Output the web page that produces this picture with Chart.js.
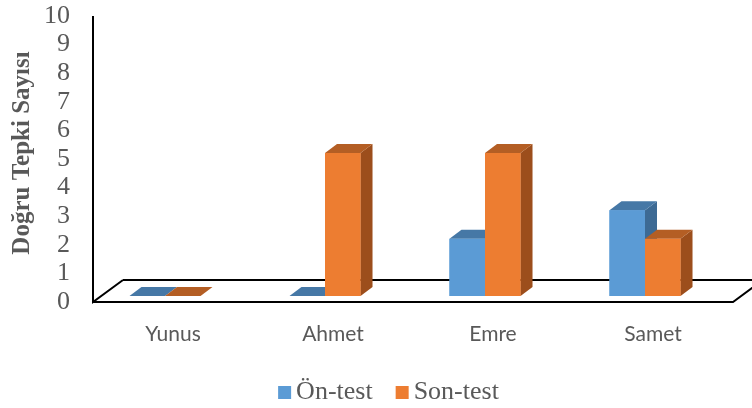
<!DOCTYPE html>
<html>
<head>
<meta charset="utf-8">
<script src="https://cdn.jsdelivr.net/npm/chart.js@4/dist/chart.umd.min.js"></script>
<style>
  html, body { margin: 0; padding: 0; background: #ffffff; }
  #wrap { width: 752px; height: 408px; position: relative; }
</style>
</head>
<body>
<div id="wrap"><canvas id="chart"></canvas></div>
<script>
// Öğrenci bazında doğru tepki sayıları
const students = ['Yunus', 'Ahmet', 'Emre', 'Samet'];
const preTest  = [0, 0, 2, 3];   // Ön-test
const postTest = [0, 5, 5, 2];   // Son-test
const yTickValues = [0, 1, 2, 3, 4, 5, 6, 7, 8, 9, 10];
const seriesNames = ['Ön-test', 'Son-test'];

const DEPTH = { dx: 12, dy: -9 };      // bar depth offset
const FLOOR = { dx: 30, dy: -22 };     // floor depth offset

// Floor parallelogram and the vertical axis line
const floorPlugin = {
  id: 'floor3d',
  beforeDatasetsDraw(chart) {
    const { ctx, chartArea: a } = chart;
    const fx0 = a.left + 8, fx1 = a.right + 8, fy = a.bottom + 6;
    ctx.save();
    ctx.strokeStyle = '#000000';
    ctx.lineWidth = 2;
    ctx.lineJoin = 'miter';
    ctx.beginPath();
    ctx.moveTo(fx0 + FLOOR.dx, fy + FLOOR.dy);
    ctx.lineTo(fx1 + FLOOR.dx, fy + FLOOR.dy);
    ctx.moveTo(fx0, fy);
    ctx.lineTo(fx1, fy);
    ctx.lineTo(fx1 + FLOOR.dx, fy + FLOOR.dy);
    ctx.moveTo(fx0 + FLOOR.dx, fy + FLOOR.dy);
    ctx.lineTo(fx0, fy);
    ctx.lineTo(fx0, a.top + 6);
    ctx.stroke();
    ctx.restore();
  }
};

// Extruded bars: side, top and front faces drawn per category, left to right
const barPlugin = {
  id: 'bar3d',
  afterDatasetsDraw(chart) {
    const ctx = chart.ctx;
    const dsets = chart.data.datasets;
    ctx.save();
    for (let j = 0; j < students.length; j++) {
      dsets.forEach((ds, i) => {
        const el = chart.getDatasetMeta(i).data[j];
        if (!el) return;
        const l = el.x - el.width / 2, r = el.x + el.width / 2;
        const t = el.y, b = el.base;
        // side
        ctx.fillStyle = ds.sideColor;
        ctx.beginPath();
        ctx.moveTo(r, t);
        ctx.lineTo(r + DEPTH.dx, t + DEPTH.dy);
        ctx.lineTo(r + DEPTH.dx, b + DEPTH.dy);
        ctx.lineTo(r, b);
        ctx.closePath();
        ctx.fill();
        // top
        ctx.fillStyle = ds.topColor;
        ctx.beginPath();
        ctx.moveTo(l, t);
        ctx.lineTo(r, t);
        ctx.lineTo(r + DEPTH.dx, t + DEPTH.dy);
        ctx.lineTo(l + DEPTH.dx, t + DEPTH.dy);
        ctx.closePath();
        ctx.fill();
        // front
        if (b - t > 0) {
          ctx.fillStyle = ds.backgroundColor;
          ctx.fillRect(l, t, r - l, b - t);
        }
      });
    }
    ctx.restore();
  }
};

// Compact legend below the axis: square swatch followed closely by the series name
const legendPlugin = {
  id: 'compactLegend',
  afterDraw(chart) {
    const ctx = chart.ctx;
    const dsets = chart.data.datasets;
    const box = 13, gap = 5, itemGap = 23, centerX = 388.5, baseline = 399;
    ctx.save();
    ctx.font = '26px "Liberation Serif"';
    ctx.textBaseline = 'alphabetic';
    const widths = dsets.map(d => ctx.measureText(d.label).width);
    const total = widths.reduce((s, w) => s + box + gap + w, 0) + itemGap * (dsets.length - 1);
    let x = centerX - total / 2;
    dsets.forEach((d, i) => {
      ctx.fillStyle = d.backgroundColor;
      ctx.fillRect(x, baseline - 13, box, box);
      x += box + gap;
      ctx.fillStyle = '#595959';
      ctx.fillText(d.label, x, baseline);
      x += widths[i] + itemGap;
    });
    ctx.restore();
  }
};

new Chart(document.getElementById('chart'), {
  type: 'bar',
  data: {
    labels: students,
    datasets: [
      { label: seriesNames[0], data: preTest,  backgroundColor: '#5B9BD5', topColor: '#4678A6', sideColor: '#3D6A94', borderWidth: 0 },
      { label: seriesNames[1], data: postTest, backgroundColor: '#ED7D31', topColor: '#B45E24', sideColor: '#9C4E1C', borderWidth: 0 }
    ]
  },
  options: {
    responsive: true,
    maintainAspectRatio: false,
    devicePixelRatio: 1,
    animation: false,
    layout: { padding: { top: 10, right: 27, left: 0, bottom: 50 } },
    datasets: { bar: { categoryPercentage: 0.444, barPercentage: 1.0 } },
    scales: {
      x: {
        afterFit(scale) { scale.height = 62; scale.paddingLeft = 0; scale.paddingRight = 0; },
        grid: { display: false, drawTicks: false },
        border: { display: false },
        ticks: { padding: 26, labelOffset: 8, color: '#595959', font: { family: 'Lato', size: 21 } }
      },
      y: {
        min: 0, max: 10,
        afterFit(scale) { scale.width = 85; scale.paddingTop = 0; scale.paddingBottom = 0; },
        afterBuildTicks(scale) { scale.ticks = yTickValues.map(v => ({ value: v })); },
        grid: { display: false, drawTicks: false },
        border: { display: false },
        ticks: {
          autoSkip: false,
          padding: 15,
          labelOffset: 6,
          color: '#595959',
          font: { family: 'Liberation Serif', size: 26 }
        },
        title: {
          display: true,
          text: 'Doğru Tepki Sayısı',
          color: '#595959',
          padding: { top: 8, bottom: 0 },
          font: { family: 'Liberation Serif', size: 25, weight: 'bold' }
        }
      }
    },
    plugins: {
      tooltip: { enabled: false },
      legend: { display: false }
    }
  },
  plugins: [floorPlugin, barPlugin, legendPlugin]
});
</script>
</body>
</html>
